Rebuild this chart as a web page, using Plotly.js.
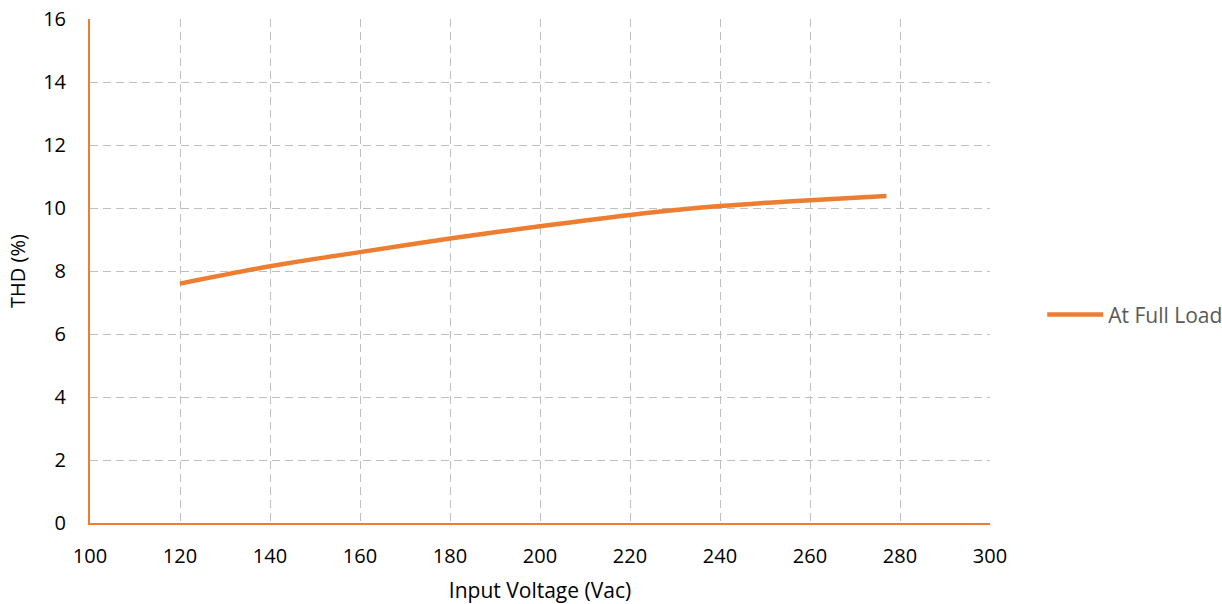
<!DOCTYPE html>
<html>
<head>
<meta charset="utf-8">
<script src="https://cdn.plot.ly/plotly-3.0.1.min.js"></script>
<style>html,body{margin:0;padding:0;background:#fff;}#chart{width:1222px;height:604px;}</style>
</head>
<body>
<div id="chart"></div>
<script>
const voltage = [120, 140, 160, 180, 200, 220, 240, 260, 277];
const thd = [7.6, 8.15, 8.6, 9.03, 9.42, 9.78, 10.06, 10.25, 10.38];
const seriesName = 'At Full Load';
const xTicks = [100, 120, 140, 160, 180, 200, 220, 240, 260, 280, 300];
const yTicks = [0, 2, 4, 6, 8, 10, 12, 14, 16];

const fontFam = '"Open Sans", "Liberation Sans", sans-serif';
const data = [
  {x: voltage, y: thd, type: 'scatter', mode: 'lines', name: seriesName,
   line: {color: '#ed7d31', width: 4.5, shape: 'spline', smoothing: 0.8}},
  {x: [xTicks[0], xTicks[xTicks.length - 1]], y: [null, null], xaxis: 'x2', type: 'scatter',
   mode: 'lines', showlegend: false, hoverinfo: 'skip'}
];
const gridX = xTicks.slice(1);
const layout = {
  width: 1222, height: 604,
  margin: {l: 90, r: 232, t: 19, b: 81, autoexpand: false},
  paper_bgcolor: '#fff', plot_bgcolor: '#fff',
  font: {family: fontFam, size: 20, color: '#000'},
  showlegend: true,
  legend: {x: 1.058, y: 0.413, xanchor: 'left', yanchor: 'middle',
    font: {size: 21, color: '#595959'}, bgcolor: 'rgba(0,0,0,0)', itemwidth: 56},
  xaxis: {
    range: [xTicks[0], xTicks[xTicks.length - 1]], tickmode: 'array', tickvals: gridX,
    showticklabels: false, showline: false,
    showgrid: true, gridcolor: '#bfbfbf', gridwidth: 1, griddash: '8px,5px',
    zeroline: false, ticks: ''
  },
  xaxis2: {
    overlaying: 'x', side: 'bottom', anchor: 'y',
    range: [xTicks[0], xTicks[xTicks.length - 1]], tickmode: 'array', tickvals: xTicks, ticktext: xTicks.map(String),
    showline: true, linecolor: '#ed7d31', linewidth: 1.5, showgrid: false,
    zeroline: false, ticks: '', ticklabelstandoff: 14,
    tickfont: {size: 20, color: '#000'},
    title: {text: 'Input Voltage (Vac)', font: {size: 21, color: '#000'}, standoff: 27}
  },
  yaxis: {
    range: [yTicks[0], yTicks[yTicks.length - 1]], tickmode: 'array', tickvals: yTicks, ticktext: yTicks.map(String),
    showline: true, linecolor: '#ed7d31', linewidth: 2,
    showgrid: true, gridcolor: '#bfbfbf', gridwidth: 1, griddash: '8px,5px',
    zeroline: false, ticks: '', ticklabelstandoff: 18,
    tickfont: {size: 20, color: '#000'},
    title: {text: 'THD (%)', font: {size: 20, color: '#000'}, standoff: 12}
  }
};
Plotly.newPlot('chart', data, layout, {displayModeBar: false, staticPlot: true});
</script>
</body>
</html>
